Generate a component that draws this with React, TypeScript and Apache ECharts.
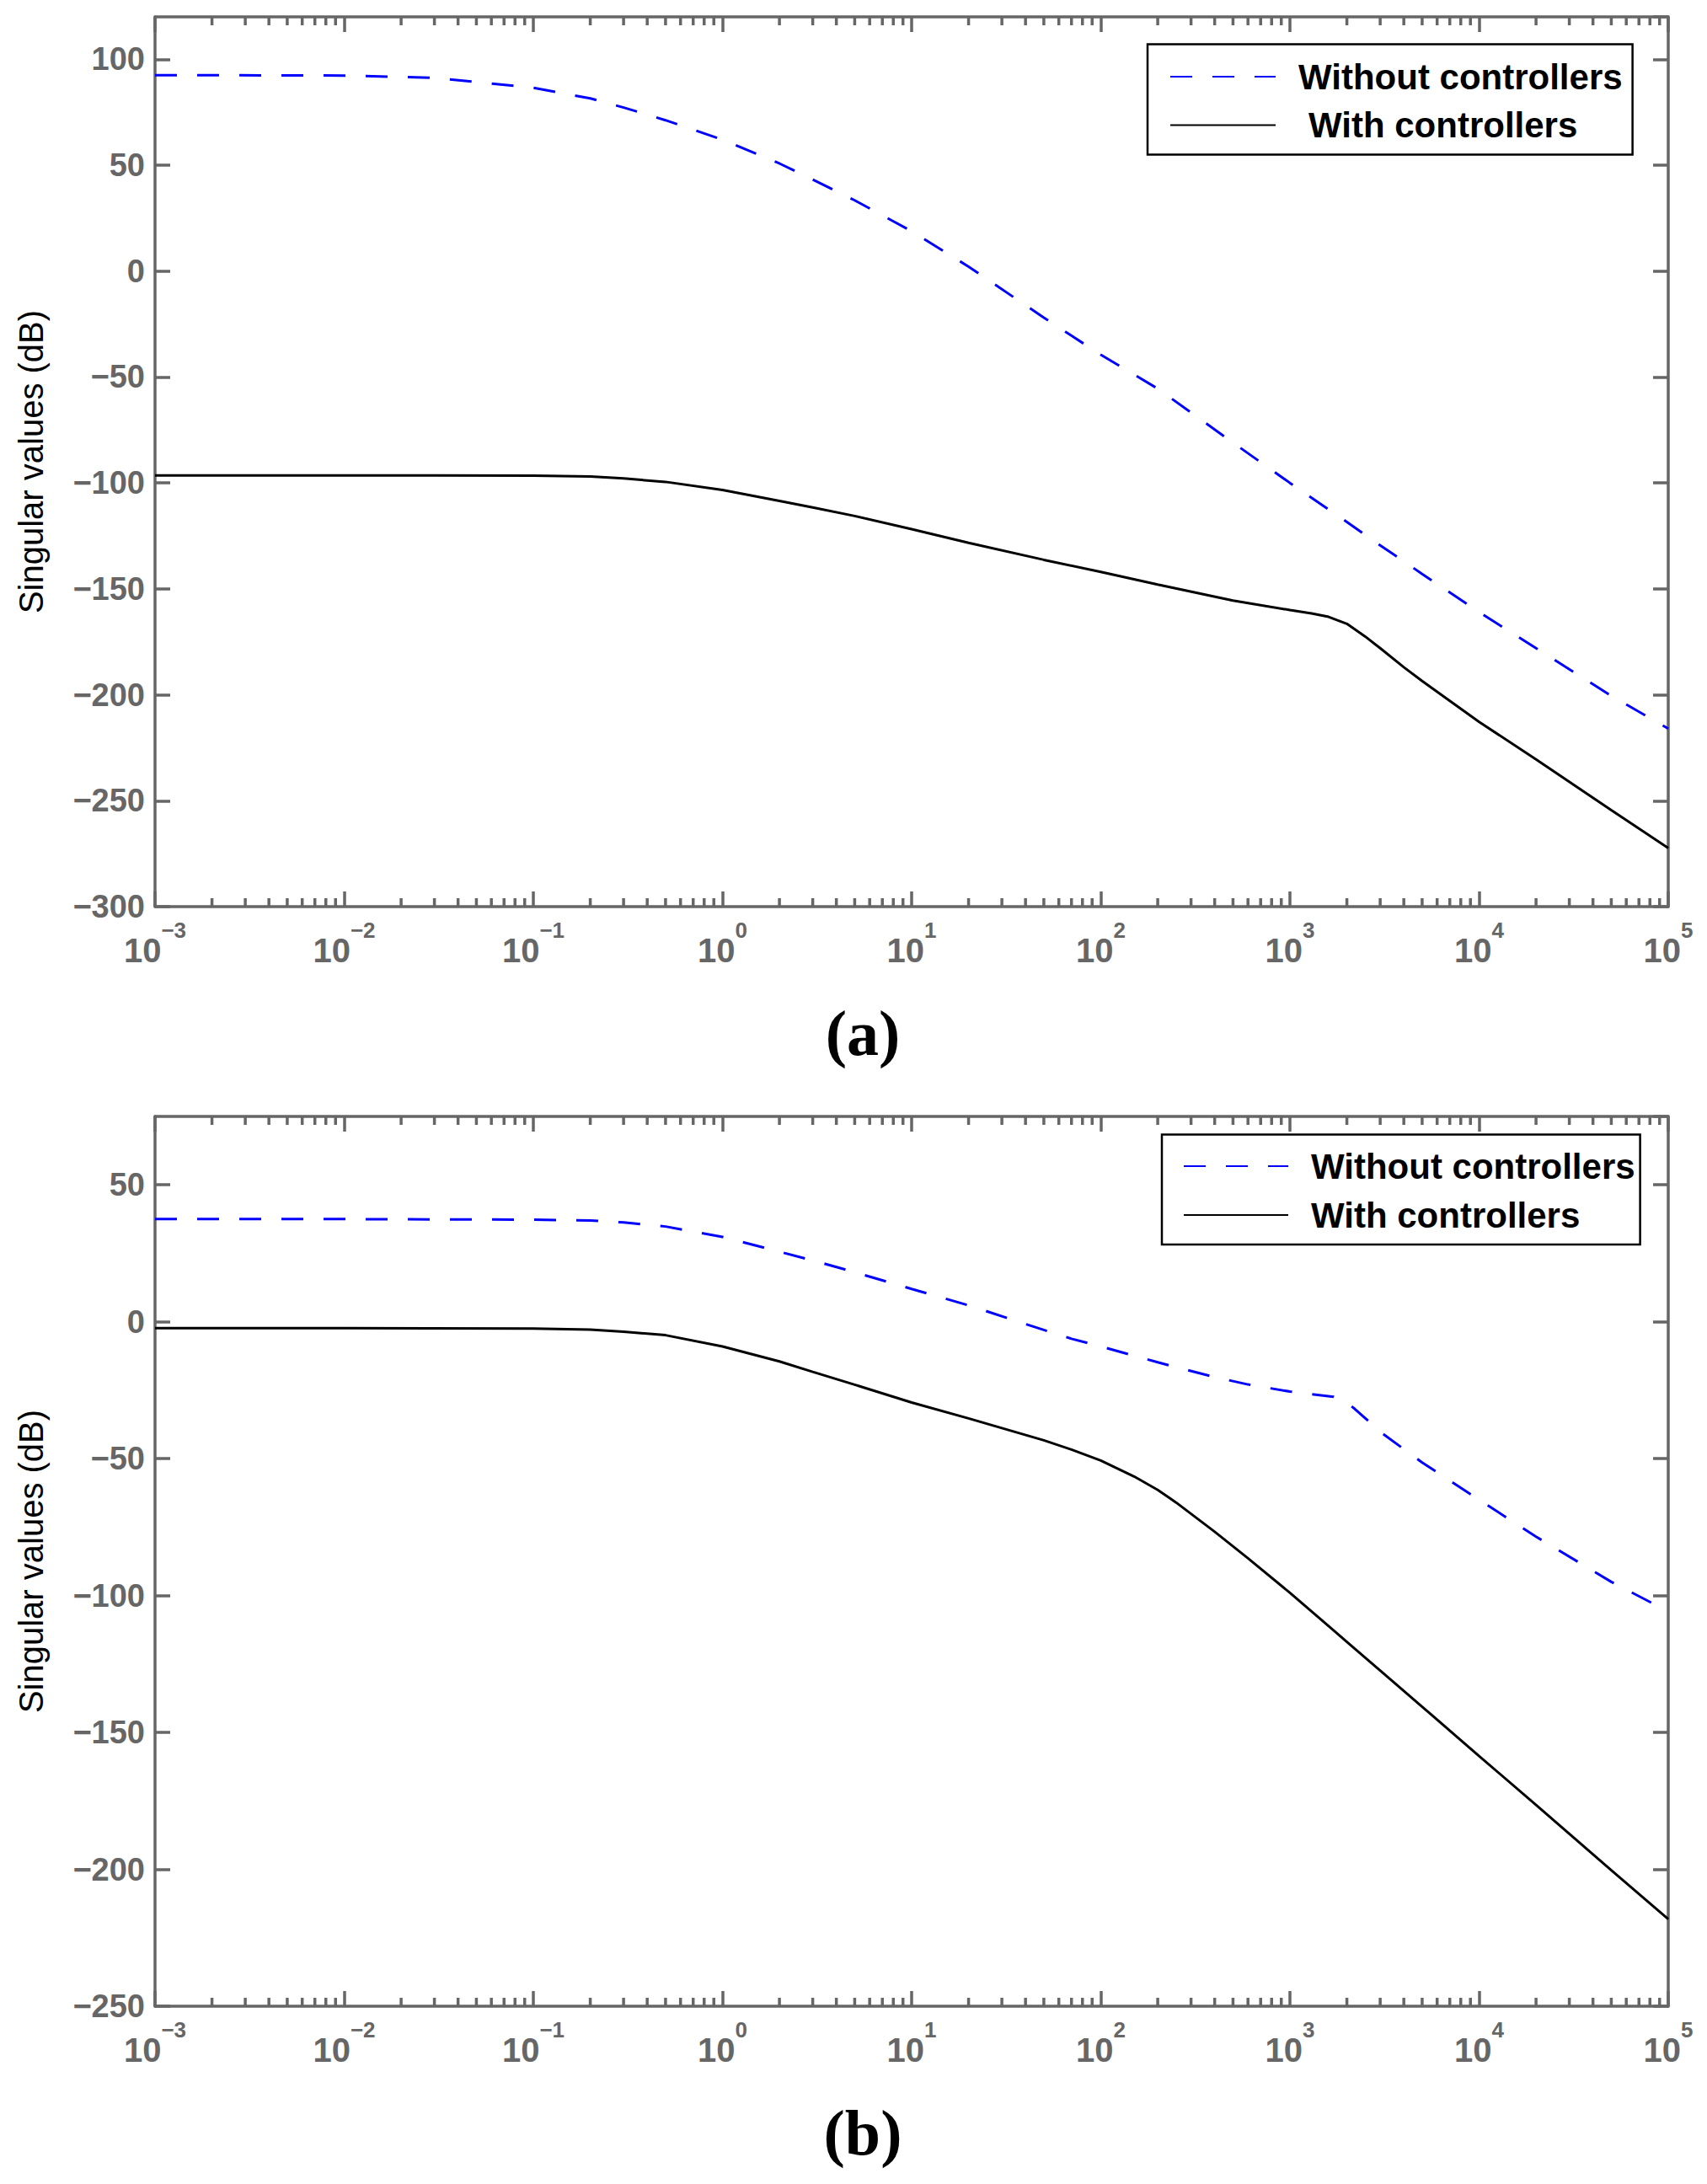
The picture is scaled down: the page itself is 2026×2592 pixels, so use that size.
import React, { useEffect, useRef } from 'react';
import * as echarts from 'echarts';

// ---------- data (frequency, singular value in dB) ----------
const FREQ_A = [0.001, 0.01, 0.03, 0.1, 0.2, 0.3, 0.5, 1, 2, 3, 5, 10, 20, 50, 100, 200, 500, 1000, 1300, 1600, 2000, 2500, 3000, 4000, 5000, 10000, 20000, 50000, 100000];
const WITHOUT_A = [92.5, 92.3, 91.2, 86.5, 81.5, 77.2, 71.2, 62, 50.8, 43.2, 33.4, 18.8, 2.1, -22, -39.5, -55.5, -81, -100, -107, -112.5, -118.4, -124.5, -129.5, -137, -143, -161, -178, -200.5, -216];
const WITH_A = [-96.5, -96.5, -96.5, -96.6, -97, -97.9, -99.5, -103.3, -108.5, -111.6, -115.6, -121.8, -128.3, -136.3, -142, -148, -155.5, -160, -161.6, -163.2, -166.5, -172.5, -178, -187, -193.5, -212.8, -230.5, -254.5, -272.4];

const FREQ_B = [0.001, 0.01, 0.1, 0.2, 0.3, 0.5, 1, 2, 3, 5, 10, 20, 50, 70, 100, 150, 200, 250, 400, 600, 1000, 1700, 2000, 2200, 2500, 3000, 5000, 10000, 20000, 50000, 100000];
const WITHOUT_B = [37.5, 37.5, 37.3, 37, 36.3, 34.8, 31, 25.6, 22.4, 18.1, 12, 6, -3, -6.2, -9, -12.4, -14.8, -16.6, -20.2, -22.9, -25.5, -27.4, -29.6, -31.8, -35.2, -40.2, -51.4, -65, -78.5, -95, -105.8];
const WITH_B = [-2.3, -2.3, -2.5, -2.9, -3.6, -4.9, -9, -14.5, -18.3, -23, -29.5, -35.3, -43.3, -46.7, -50.7, -56.5, -61.4, -66, -76.7, -86.4, -99, -112.7, -116.9, -119.4, -122.7, -127.4, -140.6, -158.6, -176.5, -200.3, -218.2];

const SERIES_NAMES = ['Without controllers', 'With controllers'];
const PANEL_LABELS = ['(a)', '(b)'];
const Y_RANGES = [
  [-300, 120],
  [-250, 75],
];
const X_RANGE = [0.001, 100000];
const DECADES = [-3, -2, -1, 0, 1, 2, 3, 4];
const MINOR_MULT = [2, 3, 4, 5, 6, 7, 8, 9];
const Y_LABEL = 'Singular values (dB)';

const GRAY = '#666666';
const SANS = '"Liberation Sans", Arial, Helvetica, sans-serif';

export default function App() {
  const ref = useRef<HTMLDivElement>(null);

  useEffect(() => {
    const chart = echarts.init(ref.current!, null, { renderer: 'svg' });

    const grids = [
      { left: 176, top: 12, width: 1796, height: 1056 },
      { left: 176, top: 1317, width: 1796, height: 1056 },
    ];
    const panels = [
      { freq: FREQ_A, without: WITHOUT_A, withc: WITH_A },
      { freq: FREQ_B, without: WITHOUT_B, withc: WITH_B },
    ];

    const minorFreqs: number[] = [];
    DECADES.forEach((d) => MINOR_MULT.forEach((m) => minorFreqs.push(m * Math.pow(10, d))));

    const xAxes: any[] = [];
    const yAxes: any[] = [];
    const series: any[] = [];

    const axisLine = { show: true, onZero: false, lineStyle: { color: GRAY, width: 3.5 } };
    const majorTick = { show: true, inside: true, length: 18, lineStyle: { color: GRAY, width: 3.5 } };

    grids.forEach((g, i) => {
      const [yMin, yMax] = Y_RANGES[i];
      xAxes.push({
        type: 'log',
        logBase: 10,
        gridIndex: i,
        position: 'bottom',
        min: X_RANGE[0],
        max: X_RANGE[1],
        interval: 1,
        splitNumber: 8,
        axisLine,
        axisTick: majorTick,
        splitLine: { show: false },
        axisLabel: {
          margin: 15,
          formatter: (v: number) => {
            const e = Math.round(Math.log10(v));
            return `{b|10}{e|${e < 0 ? '\u2212' + Math.abs(e) : e}}`;
          },
          rich: {
            b: { fontSize: 40, fontWeight: 'bold', fontFamily: SANS, color: GRAY, lineHeight: 57, verticalAlign: 'bottom' },
            e: { fontSize: 26, fontWeight: 'bold', fontFamily: SANS, color: GRAY, lineHeight: 28, verticalAlign: 'top' },
          },
        },
      });
      xAxes.push({
        type: 'log',
        logBase: 10,
        gridIndex: i,
        position: 'top',
        min: X_RANGE[0],
        max: X_RANGE[1],
        interval: 1,
        splitNumber: 8,
        axisLine,
        axisTick: majorTick,
        splitLine: { show: false },
        axisLabel: { show: false },
      });
      yAxes.push({
        type: 'value',
        gridIndex: i,
        position: 'left',
        min: yMin,
        max: yMax,
        interval: 50,
        axisLine,
        axisTick: majorTick,
        splitLine: { show: false },
        name: Y_LABEL,
        nameLocation: 'middle',
        nameRotate: 90,
        nameGap: 127,
        nameTextStyle: { fontSize: 40, fontFamily: SANS, color: '#000', fontWeight: 'normal' },
        axisLabel: {
          margin: 12,
          showMaxLabel: false,
          fontSize: 38,
          fontWeight: 'bold',
          fontFamily: SANS,
          color: GRAY,
          formatter: (v: number) => (v % 50 !== 0 ? '' : v < 0 ? '\u2212' + Math.abs(v) : String(v)),
        },
      });
      yAxes.push({
        type: 'value',
        gridIndex: i,
        position: 'right',
        min: yMin,
        max: yMax,
        interval: 50,
        axisLine,
        axisTick: majorTick,
        splitLine: { show: false },
        axisLabel: { show: false },
      });

      const p = panels[i];
      series.push({
        name: SERIES_NAMES[0],
        type: 'line',
        xAxisIndex: 2 * i,
        yAxisIndex: 2 * i,
        data: p.freq.map((f, k) => [f, p.without[k]]),
        symbol: 'none',
        lineStyle: { color: '#0000ff', width: 3, type: [26, 24] },
        itemStyle: { color: '#0000ff' },
        z: 3,
      });
      series.push({
        name: SERIES_NAMES[1],
        type: 'line',
        xAxisIndex: 2 * i,
        yAxisIndex: 2 * i,
        data: p.freq.map((f, k) => [f, p.withc[k]]),
        symbol: 'none',
        lineStyle: { color: '#000000', width: 3, type: 'solid' },
        itemStyle: { color: '#000000' },
        z: 3,
      });
      series.push({
        name: 'minor-ticks-' + i,
        type: 'custom',
        xAxisIndex: 2 * i,
        yAxisIndex: 2 * i,
        silent: true,
        clip: false,
        z: 5,
        data: minorFreqs.map((f) => [f, yMin]),
        encode: { x: 0, y: 1 },
        renderItem: (_params: any, api: any) => {
          const f = api.value(0);
          const b = api.coord([f, yMin]);
          const t = api.coord([f, yMax]);
          return {
            type: 'group',
            children: [
              { type: 'line', shape: { x1: b[0], y1: b[1], x2: b[0], y2: b[1] - 10 }, style: { stroke: GRAY, lineWidth: 3.5 } },
              { type: 'line', shape: { x1: t[0], y1: t[1], x2: t[0], y2: t[1] + 10 }, style: { stroke: GRAY, lineWidth: 3.5 } },
            ],
          };
        },
      });
    });

    const legendText = {
      fontSize: 42,
      fontWeight: 'bold',
      fontFamily: SANS,
      color: '#000',
      lineHeight: 44,
      padding: [0, 0, 0, 22],
    };

    const option: any = {
      animation: false,
      backgroundColor: '#ffffff',
      grid: grids.map((g) => ({ ...g, containLabel: false })),
      xAxis: xAxes,
      yAxis: yAxes,
      series,
      legend: [
        {
          data: SERIES_NAMES,
          orient: 'vertical',
          left: 1354,
          top: 44.5,
          padding: [16.5, 12, 13, 26],
          itemWidth: 125,
          itemHeight: 14,
          itemGap: 13.5,
          borderColor: '#000',
          borderWidth: 2.5,
          backgroundColor: '#fff',
          selectedMode: false,
          itemStyle: { opacity: 0 },
          formatter: (name: string) => (name === SERIES_NAMES[1] ? '{sp|}' + name : name),
          textStyle: { ...legendText, rich: { sp: { width: 12 } } },
        },
        {
          data: SERIES_NAMES,
          orient: 'vertical',
          left: 1371,
          top: 1338.5,
          padding: [15.5, 6, 13, 25],
          itemWidth: 124,
          itemHeight: 14,
          itemGap: 14,
          borderColor: '#000',
          borderWidth: 2.5,
          backgroundColor: '#fff',
          selectedMode: false,
          itemStyle: { opacity: 0 },
          textStyle: legendText,
        },
      ],
      graphic: PANEL_LABELS.map((lab, i) => ({
        type: 'text',
        x: 1016,
        y: i === 0 ? 1218 : 2523,
        style: {
          text: lab,
          fontSize: 76,
          fontWeight: 'bold',
          fontFamily: '"Liberation Serif", "Times New Roman", serif',
          fill: '#000',
          align: 'center',
          verticalAlign: 'middle',
        },
      })),
    };

    chart.setOption(option);
    return () => chart.dispose();
  }, []);

  return <div ref={ref} style={{ width: 2010, height: 2576 }} />;
}
